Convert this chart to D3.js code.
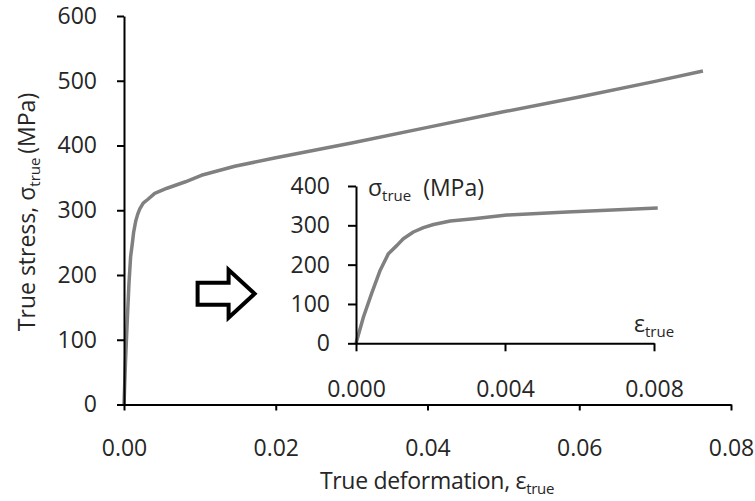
<!DOCTYPE html>
<html>
<head>
<meta charset="utf-8">
<script src="https://cdn.jsdelivr.net/npm/d3@7"></script>
<style>
  html, body { margin: 0; padding: 0; background: #fff; }
  svg { display: block; }
  text { font-family: "Open Sans", sans-serif; fill: #262626; }
</style>
</head>
<body>
<svg id="chart" width="755" height="501"></svg>
<script>
// ---- data ----
const strain = [0, 0.0002, 0.00042, 0.00065, 0.00087, 0.0011, 0.00127, 0.00154, 0.00181, 0.00208,
                0.00253, 0.00316, 0.00405, 0.00567, 0.0081, 0.0102, 0.0146, 0.02, 0.03, 0.04,
                0.05, 0.06, 0.07, 0.0763];
const stress = [0, 67, 127, 186, 228, 249, 266, 283, 294, 302,
                311, 317, 326, 334, 344, 354, 368, 381, 404, 428,
                452, 475, 499, 515];
const mainXTicks = [0, 0.02, 0.04, 0.06, 0.08];
const mainYTicks = [0, 100, 200, 300, 400, 500, 600];
const insetXTicks = [0, 0.004, 0.008];
const insetYTicks = [0, 100, 200, 300, 400];
const insetMaxStrain = 0.0081;

const data = strain.map((e, i) => ({ e, s: stress[i] }));
const insetData = data.filter(d => d.e <= insetMaxStrain);

const svg = d3.select("#chart");
svg.append("rect").attr("width", 755).attr("height", 501).attr("fill", "#fff");

const FS = 23;
const SUB = 15;
const axisColor = "#000";
const lineColor = "#808080";

// ---- main chart ----
const x = d3.scaleLinear().domain([0, 0.08]).range([124, 731]);
const y = d3.scaleLinear().domain([0, 600]).range([404.5, 16]);

function styleAxis(g) {
  g.select(".domain").attr("stroke", axisColor).attr("stroke-width", 2);
  g.selectAll(".tick line").attr("stroke", axisColor).attr("stroke-width", 2);
  g.selectAll(".tick text").attr("font-size", FS).attr("font-family", "Open Sans").attr("fill", "#262626");
}

const line = d3.line().x(d => x(d.e)).y(d => y(d.s));
svg.append("path").datum(data)
  .attr("d", line)
  .attr("fill", "none")
  .attr("stroke", lineColor)
  .attr("stroke-width", 3.5)
  .attr("stroke-linejoin", "round");

svg.append("g").attr("transform", `translate(0,${y(0)})`)
  .call(d3.axisBottom(x).tickValues(mainXTicks).tickFormat(d3.format(".2f"))
        .tickSizeInner(6).tickSizeOuter(0).tickPadding(29))
  .call(styleAxis);

svg.append("g").attr("transform", `translate(${x(0)},0)`)
  .call(d3.axisLeft(y).tickValues(mainYTicks).tickFormat(d3.format("d"))
        .tickSizeInner(7).tickSizeOuter(0).tickPadding(20))
  .call(styleAxis);

// axis titles
const xt = svg.append("text").attr("x", 437).attr("y", 489)
  .attr("text-anchor", "middle").attr("font-size", FS).attr("letter-spacing", -0.3);
xt.append("tspan").text("True deformation, ε");
xt.append("tspan").attr("font-size", SUB).attr("dy", 5).text("true");

const yt = svg.append("text")
  .attr("transform", "translate(35,212) rotate(-90)")
  .attr("text-anchor", "middle").attr("font-size", FS);
yt.append("tspan").text("True stress, σ");
yt.append("tspan").attr("font-size", SUB).attr("dy", 5).text("true ");
yt.append("tspan").attr("dy", -5).text("(MPa)");

// ---- arrow (annotation) ----
const ax0 = x(0.0097), ay = y(171);
const arrowPts = [
  [0, -11], [31, -11], [31, -24], [57, 0], [31, 24], [31, 11], [0, 11]
].map(p => [ax0 + p[0], ay + p[1]]);
svg.append("path")
  .attr("d", d3.line()(arrowPts) + "Z")
  .attr("fill", "#fff").attr("stroke", "#000").attr("stroke-width", 4)
  .attr("stroke-linejoin", "miter");

// ---- inset chart ----
const xi = d3.scaleLinear().domain([0, 0.008]).range([356, 654]);
const yi = d3.scaleLinear().domain([0, 400]).range([343.3, 186]);

const lineI = d3.line().x(d => xi(d.e)).y(d => yi(d.s));
svg.append("path").datum(insetData)
  .attr("d", lineI)
  .attr("fill", "none")
  .attr("stroke", lineColor)
  .attr("stroke-width", 3.5)
  .attr("stroke-linejoin", "round");

svg.append("g").attr("transform", `translate(0,${yi(0)})`)
  .call(d3.axisBottom(xi).tickValues(insetXTicks).tickFormat(d3.format(".3f"))
        .tickSizeInner(8).tickSizeOuter(0).tickPadding(29))
  .call(styleAxis);

svg.append("g").attr("transform", `translate(${xi(0)},0)`)
  .call(d3.axisLeft(yi).tickValues(insetYTicks).tickFormat(d3.format("d"))
        .tickSizeInner(8).tickSizeOuter(0).tickPadding(18))
  .call(styleAxis);

const it = svg.append("text").attr("x", 368).attr("y", 196).attr("font-size", FS);
it.append("tspan").text("σ");
it.append("tspan").attr("font-size", SUB).attr("dy", 5).text("true");
it.append("tspan").attr("dy", -5).text("  (MPa)").attr("xml:space", "preserve").style("white-space", "pre");

const et = svg.append("text").attr("x", 634).attr("y", 332).attr("font-size", FS);
et.append("tspan").text("ε");
et.append("tspan").attr("font-size", SUB).attr("dy", 5).text("true");
</script>
</body>
</html>
